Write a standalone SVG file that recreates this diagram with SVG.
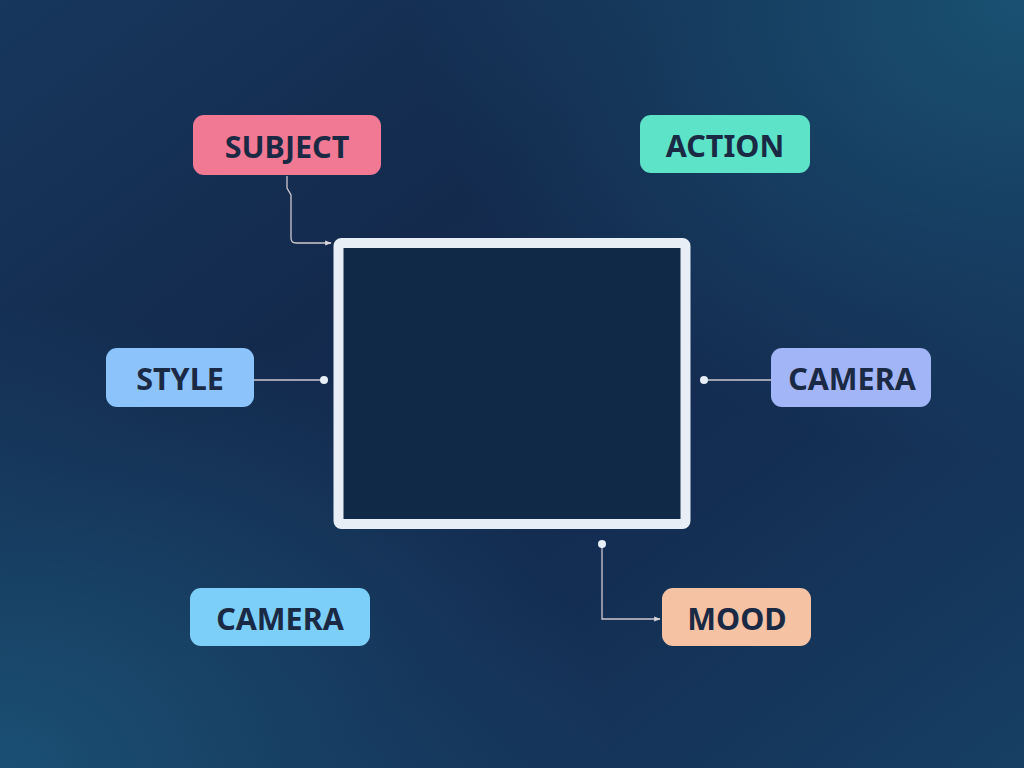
<svg xmlns="http://www.w3.org/2000/svg" width="1024" height="768" viewBox="0 0 1024 768">
<defs>
<linearGradient id="bg" x1="0" y1="0" x2="1" y2="1">
<stop offset="0" stop-color="#17375c"/>
<stop offset="0.35" stop-color="#132a4d"/>
<stop offset="0.65" stop-color="#142d52"/>
<stop offset="1" stop-color="#163f63"/>
</linearGradient>
<radialGradient id="tr" cx="1" cy="0" r="0.6">
<stop offset="0" stop-color="#1a5576" stop-opacity="0.9"/>
<stop offset="1" stop-color="#1a5576" stop-opacity="0"/>
</radialGradient>
<radialGradient id="bl" cx="0" cy="1" r="0.6">
<stop offset="0" stop-color="#1b5478" stop-opacity="0.9"/>
<stop offset="1" stop-color="#1b5478" stop-opacity="0"/>
</radialGradient>
<marker id="arr" viewBox="0 0 10 10" refX="9" refY="5" markerWidth="5" markerHeight="5" orient="auto">
<path d="M0,1 L10,5 L0,9 z" fill="#d9d6dc"/>
</marker>
<style>
.lbl{font-family:"Noto Sans","Open Sans","DejaVu Sans",sans-serif;font-weight:700;font-size:30.5px;fill:#1a2944;text-anchor:middle;dominant-baseline:central}
.conn{fill:none;stroke:#cfc8cf;stroke-width:1.3}
.dot{fill:#e8eef6}
</style>
</defs>
<rect width="1024" height="768" fill="url(#bg)"/>
<rect width="1024" height="768" fill="url(#tr)"/>
<rect width="1024" height="768" fill="url(#bl)"/>
<g id="frame">
<rect x="338.5" y="243" width="347" height="281" rx="3" fill="#0f2947" stroke="#e8eef6" stroke-width="10"/>
</g>
<g id="connectors">
<path class="conn" d="M287,176 L287,188 L291,195 L291,238 Q291,243 296,243 L331,243" marker-end="url(#arr)"/>
<path class="conn" d="M254,380 L324,380"/>
<circle class="dot" cx="324" cy="380" r="4"/>
<path class="conn" d="M704,380 L771,380"/>
<circle class="dot" cx="704" cy="380" r="4"/>
<path class="conn" d="M602,544 L602,619 L660,619" marker-end="url(#arr)"/>
<circle class="dot" cx="602" cy="544" r="4"/>
</g>
<g id="subject">
<rect x="193" y="115" width="188" height="60" rx="11" fill="#f27993"/>
<text class="lbl" x="287" y="146">SUBJECT</text>
</g>
<g id="action">
<rect x="640" y="115" width="170" height="58" rx="11" fill="#5de3c8"/>
<text class="lbl" x="725" y="145">ACTION</text>
</g>
<g id="style">
<rect x="106" y="348" width="148" height="59" rx="11" fill="#8cc3fa"/>
<text class="lbl" x="180" y="378">STYLE</text>
</g>
<g id="camera-right">
<rect x="771" y="348" width="160" height="59" rx="11" fill="#a2b5f7"/>
<text class="lbl" x="852" y="378">CAMERA</text>
</g>
<g id="camera-left">
<rect x="190" y="588" width="180" height="58" rx="11" fill="#7ccff8"/>
<text class="lbl" x="280" y="618">CAMERA</text>
</g>
<g id="mood">
<rect x="662" y="588" width="149" height="58" rx="11" fill="#f5c3a4"/>
<text class="lbl" x="737" y="618">MOOD</text>
</g>
</svg>
